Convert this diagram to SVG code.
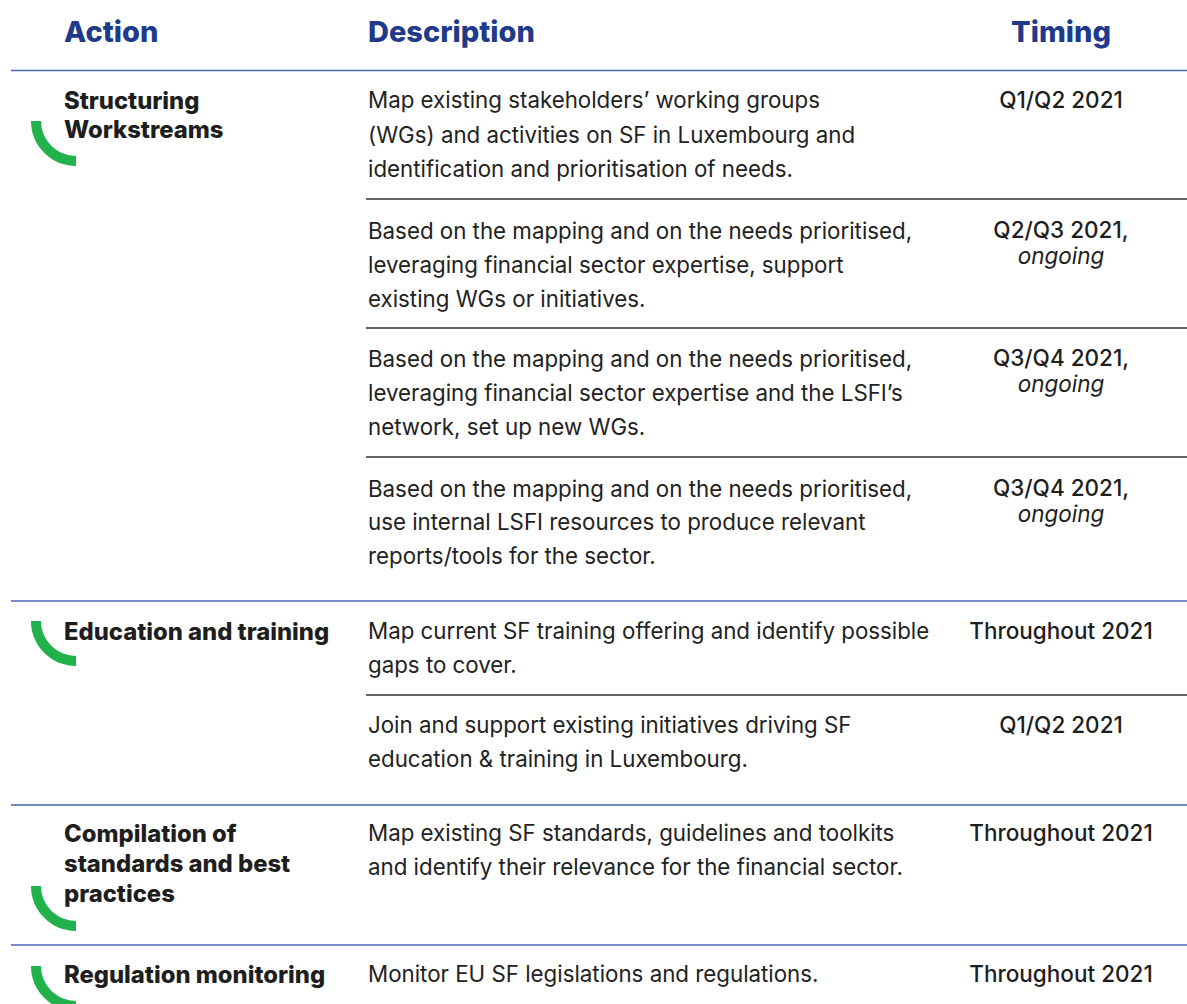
<svg xmlns="http://www.w3.org/2000/svg" width="1187" height="1004" viewBox="0 0 1187 1004">
<style>
.hd{font-family:Inter,"Liberation Sans",sans-serif;font-weight:800;font-size:29px;fill:#1f3a8a}
.act{font-family:Inter,"Liberation Sans",sans-serif;font-weight:800;font-size:23.8px;fill:#1e1e1e}
.desc{font-family:Inter,"Liberation Sans",sans-serif;font-size:22.3px;fill:#222}
.tm{font-family:Inter,"Liberation Sans",sans-serif;font-size:22.5px;font-weight:500;fill:#1e1e1e;text-anchor:middle}
.it{font-style:italic;font-weight:400}
.bl{stroke:#4a64ad;stroke-width:1.5}
.dk{stroke:#333;stroke-width:1.5}
.arc{fill:none;stroke:#21b24b;stroke-width:10}
</style>
<rect width="1187" height="1004" fill="#fff"/>
<g id="header">
<text class="hd" x="64" y="42">Action</text>
<text class="hd" x="368" y="42">Description</text>
<text class="hd" x="1061" y="42" text-anchor="middle">Timing</text>
</g>
<g id="connectors">
<line class="bl" x1="11" y1="70.5" x2="1187" y2="70.5"/>
<line class="dk" x1="366" y1="199" x2="1187" y2="199"/>
<line class="dk" x1="366" y1="328" x2="1187" y2="328"/>
<line class="dk" x1="366" y1="457" x2="1187" y2="457"/>
<line class="bl" x1="11" y1="601" x2="1187" y2="601"/>
<line class="dk" x1="366" y1="695" x2="1187" y2="695"/>
<line class="bl" x1="11" y1="805" x2="1187" y2="805"/>
<line class="bl" x1="11" y1="945" x2="1187" y2="945"/>
</g>
<g id="action-structuring">
<path class="arc" d="M36 121 A40 40 0 0 0 76 161"/>
<text class="act" x="64" y="109">Structuring</text>
<text class="act" x="64" y="138">Workstreams</text>
</g>
<g id="action-education">
<path class="arc" d="M36 621 A40 40 0 0 0 76 661"/>
<text class="act" x="64" y="640">Education and training</text>
</g>
<g id="action-compilation">
<path class="arc" d="M36 886 A40 40 0 0 0 76 926"/>
<text class="act" x="64" y="842">Compilation of</text>
<text class="act" x="64" y="872">standards and best</text>
<text class="act" x="64" y="902">practices</text>
</g>
<g id="action-regulation">
<path class="arc" d="M36 966 A40 40 0 0 0 76 1006"/>
<text class="act" x="64" y="983">Regulation monitoring</text>
</g>
<g id="row1">
<text class="desc" x="368" y="108">Map existing stakeholders’ working groups</text>
<text class="desc" x="368" y="143">(WGs) and activities on SF in Luxembourg and</text>
<text class="desc" x="368" y="177">identification and prioritisation of needs.</text>
<text class="tm" x="1061" y="108">Q1/Q2 2021</text>
</g>
<g id="row2">
<text class="desc" x="368" y="239">Based on the mapping and on the needs prioritised,</text>
<text class="desc" x="368" y="273">leveraging financial sector expertise, support</text>
<text class="desc" x="368" y="307">existing WGs or initiatives.</text>
<text class="tm" x="1061" y="238">Q2/Q3 2021,</text>
<text class="tm it" x="1061" y="264">ongoing</text>
</g>
<g id="row3">
<text class="desc" x="368" y="367">Based on the mapping and on the needs prioritised,</text>
<text class="desc" x="368" y="401">leveraging financial sector expertise and the LSFI’s</text>
<text class="desc" x="368" y="435">network, set up new WGs.</text>
<text class="tm" x="1061" y="366">Q3/Q4 2021,</text>
<text class="tm it" x="1061" y="392">ongoing</text>
</g>
<g id="row4">
<text class="desc" x="368" y="497">Based on the mapping and on the needs prioritised,</text>
<text class="desc" x="368" y="530">use internal LSFI resources to produce relevant</text>
<text class="desc" x="368" y="564">reports/tools for the sector.</text>
<text class="tm" x="1061" y="496">Q3/Q4 2021,</text>
<text class="tm it" x="1061" y="522">ongoing</text>
</g>
<g id="row5">
<text class="desc" x="368" y="639">Map current SF training offering and identify possible</text>
<text class="desc" x="368" y="673">gaps to cover.</text>
<text class="tm" x="1061" y="639">Throughout 2021</text>
</g>
<g id="row6">
<text class="desc" x="368" y="733">Join and support existing initiatives driving SF</text>
<text class="desc" x="368" y="767">education &amp; training in Luxembourg.</text>
<text class="tm" x="1061" y="733">Q1/Q2 2021</text>
</g>
<g id="row7">
<text class="desc" x="368" y="841">Map existing SF standards, guidelines and toolkits</text>
<text class="desc" x="368" y="875">and identify their relevance for the financial sector.</text>
<text class="tm" x="1061" y="841">Throughout 2021</text>
</g>
<g id="row8">
<text class="desc" x="368" y="982">Monitor EU SF legislations and regulations.</text>
<text class="tm" x="1061" y="982">Throughout 2021</text>
</g>
</svg>
